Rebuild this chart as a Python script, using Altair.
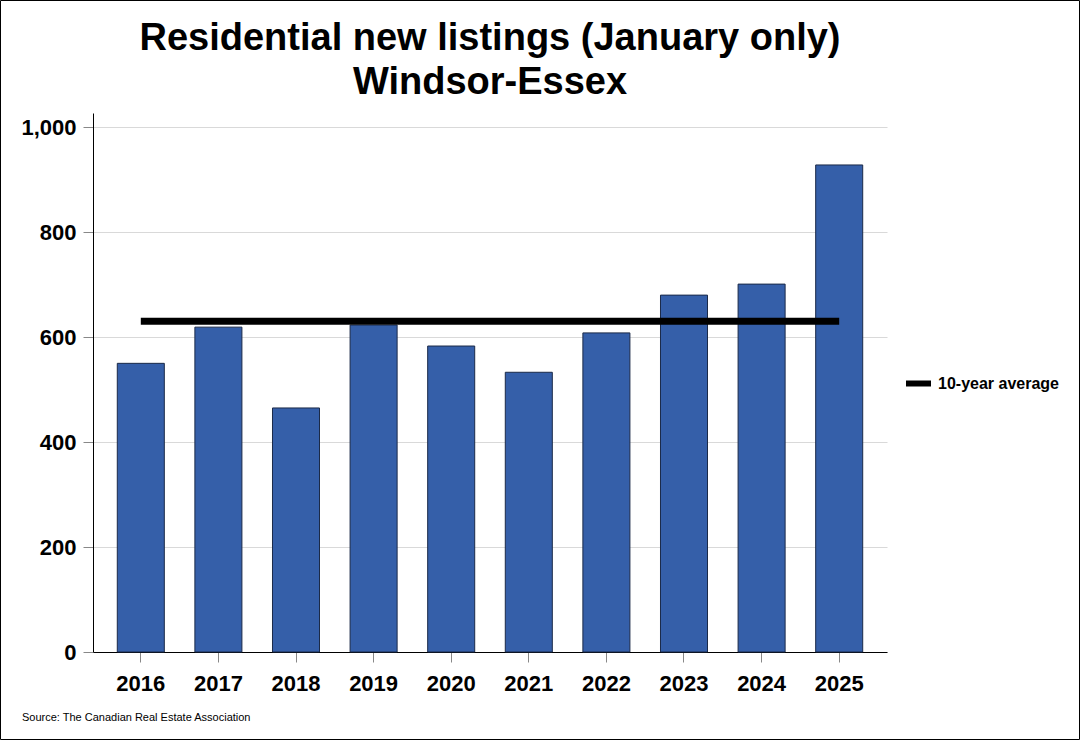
import altair as alt
import pandas as pd

years = ["2016", "2017", "2018", "2019", "2020", "2021", "2022", "2023", "2024", "2025"]
listings = [550, 619, 465, 623, 583, 533, 608, 680, 701, 928]
avg_value = 630
avg_label = "10-year average"
title_lines = ["Residential new listings (January only)", "Windsor-Essex"]
source_text = "Source: The Canadian Real Estate Association"
y_ticks = [0, 200, 400, 600, 800, 1000]

bars_df = pd.DataFrame({"year": years, "value": listings})
avg_df = pd.DataFrame({"year": years, "value": [avg_value] * len(years), "series": [avg_label] * len(years)})

W, H = 794, 539
PL, PT = 93, 113
FONT = "Liberation Sans"

x_scale = alt.Scale(paddingInner=0.394, paddingOuter=0.313)
y_scale = alt.Scale(domain=[0, 1027], nice=False)

bars = alt.Chart(bars_df).mark_bar(color="#355FA9", stroke="#1B2A48", strokeWidth=1).encode(
    x=alt.X("year:N", scale=x_scale, sort=years, title=None,
            axis=alt.Axis(labelAngle=0, labelFontSize=22, labelFontWeight="bold", labelFont=FONT,
                          labelColor="black", labelPadding=11, tickColor="#888888", tickSize=10,
                          domainColor="black", grid=False)),
    y=alt.Y("value:Q", scale=y_scale, title=None,
            axis=alt.Axis(values=y_ticks, format=",d", labelFontSize=22, labelFontWeight="bold",
                          labelFont=FONT, labelColor="black", labelPadding=7, tickColor="#888888",
                          tickSize=10, domainColor="black", gridColor="#D9D9D9")),
)

line = alt.Chart(avg_df).mark_line(strokeWidth=7, strokeCap="butt").encode(
    x=alt.X("year:N", sort=years),
    y=alt.Y("value:Q"),
    color=alt.Color("series:N", scale=alt.Scale(range=["black"]), title=None,
                    legend=alt.Legend(orient="none", legendX=810, legendY=255, symbolType="stroke",
                                      symbolStrokeWidth=6, symbolSize=625, labelFontSize=16,
                                      labelFontWeight="bold", labelFont=FONT, labelColor="black")),
)

title_layers = []
for line_text, ypos in zip(title_lines, [39, 83]):
    title_layers.append(
        alt.Chart(pd.DataFrame({"t": [line_text]})).mark_text(
            align="center", baseline="middle", fontSize=38, font=FONT, fontWeight="bold", color="black"
        ).encode(text="t:N", x=alt.value(W / 2), y=alt.value(ypos - PT))
    )

border = alt.Chart(pd.DataFrame({"a": [0]})).mark_rect(fill=None, stroke="black", strokeWidth=1).encode(
    x=alt.value(-PL + 0.5), x2=alt.value(1080 - PL - 0.5),
    y=alt.value(-PT + 0.5), y2=alt.value(740 - PT - 0.5),
)

source = alt.Chart(pd.DataFrame({"t": [source_text]})).mark_text(
    align="left", baseline="middle", fontSize=11, font=FONT, color="black"
).encode(text="t:N", x=alt.value(22 - PL), y=alt.value(718 - PT))

chart = alt.layer(bars, line, *title_layers, source, border).properties(
    width=W, height=H,
    autosize=alt.AutoSizeParams(type="none"),
    padding={"left": PL, "top": PT, "right": 1080 - PL - W, "bottom": 740 - PT - H},
).configure(background="white", view=alt.ViewConfig(stroke="transparent", strokeWidth=0))

chart.save("out.html", embed_options={"renderer": "svg", "actions": False})
